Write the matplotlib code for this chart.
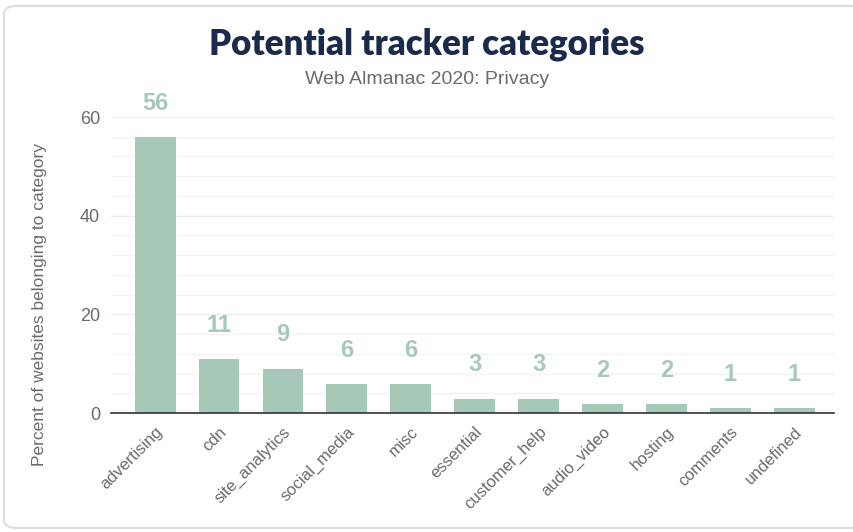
import matplotlib
matplotlib.use("Agg")
import matplotlib.pyplot as plt
from matplotlib.patches import FancyBboxPatch

categories = ["advertising", "cdn", "site_analytics", "social_media", "misc",
              "essential", "customer_help", "audio_video", "hosting", "comments", "undefined"]
values = [56.0, 11.0, 9.0, 5.9, 5.9, 2.9, 2.9, 1.8, 1.8, 1.0, 1.0]
yticks = [0, 20, 40, 60]

bar_color = "#a5c8b8"
label_color = "#a5c8b8"
grey = "#6b6b6b"

fig = plt.figure(figsize=(8.54, 5.32), dpi=100)
fig.patch.set_facecolor("white")

card = FancyBboxPatch((4/854, 4/532), 870/854, (528-6)/532,
                      boxstyle="round,pad=0,rounding_size=0.015",
                      transform=fig.transFigure, facecolor="none",
                      edgecolor="#dddddd", linewidth=1.5, zorder=-5)
fig.patches.append(card)

ax = fig.add_axes([111/854, 1-413/532, (834-111)/854, (413-117)/532])
ax.set_facecolor("none")
x = list(range(len(categories)))
ax.bar(x, values, width=0.64, color=bar_color, zorder=3)
for xi, v in zip(x, values):
    ax.annotate(f"{round(v):.0f}", (xi, v), xytext=(0, 16), textcoords="offset points",
                ha="center", va="bottom", color=label_color, fontsize=17,
                fontweight="bold", family="Liberation Sans")

ax.set_xlim(-0.69, 10.62)
ax.set_ylim(0, 60)
ax.set_yticks(yticks)
ax.set_yticks([v for v in range(0, 61, 4) if v % 20 != 0], minor=True)
ax.grid(axis="y", which="major", color="#ececec", linewidth=1, zorder=0)
ax.grid(axis="y", which="minor", color="#f3f3f3", linewidth=1, zorder=0)
ax.tick_params(axis="y", which="both", length=0, labelsize=13, labelcolor=grey, pad=8)
for t in ax.get_yticklabels():
    t.set_family("Liberation Sans")
ax.set_xticks(x)
ax.set_xticklabels(categories, rotation=45, ha="right", rotation_mode="anchor",
                   fontsize=12, color=grey, family="Liberation Sans")
ax.tick_params(axis="x", length=0, pad=8)
for s in ["top", "right", "left"]:
    ax.spines[s].set_visible(False)
ax.spines["bottom"].set_color("#333333")
ax.spines["bottom"].set_linewidth(1.2)
ax.spines["bottom"].set_zorder(4)

fig.text(40/854, 1-304/532, "Percent of websites belonging to category", rotation=90,
         ha="center", va="center", fontsize=12.5, color=grey, family="Liberation Sans")

fig.text(0.5, 1-44/532, "Potential tracker categories", ha="center", va="center",
         fontsize=25, fontweight="heavy", color="#1b2a4a", family="Lato")
fig.text(0.5, 1-80/532, "Web Almanac 2020: Privacy", ha="center", va="center",
         fontsize=14, color=grey, family="Liberation Sans")

fig.savefig("out.png", dpi=100)
